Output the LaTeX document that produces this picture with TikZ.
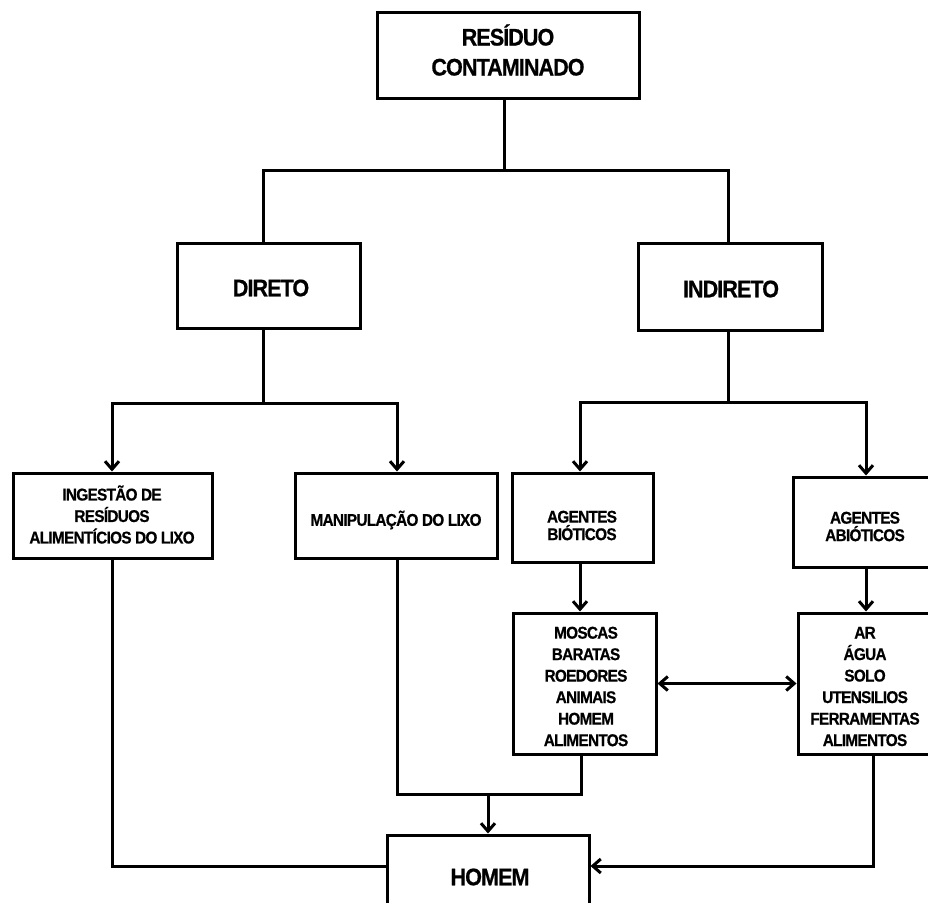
\documentclass[tikz,border=0pt]{standalone}
\usepackage{fontspec}
\newfontfamily\labfont{Liberation Sans}[FakeStretch=0.9,LetterSpace=-4,FakeBold=0.6]
\usetikzlibrary{arrows.meta}
\begin{document}
\begin{tikzpicture}[x=1pt,y=-1pt,
  line width=3pt,
  boxnode/.style={draw, rectangle, inner sep=0pt, fill=white},
  bigt/.style={align=center, inner sep=0pt, font=\labfont\bfseries\fontsize{24}{30}\selectfont},
  smt/.style={align=center, inner sep=0pt, font=\labfont\bfseries\fontsize{17}{21.5}\selectfont},
  smtight/.style={align=center, inner sep=0pt, font=\labfont\bfseries\fontsize{17}{17.5}\selectfont},
  arr/.style={-{Straight Barb[length=8pt,width=14pt]}},
  arrboth/.style={{Straight Barb[length=8pt,width=14pt]}-{Straight Barb[length=8pt,width=14pt]}}
]
\useasboundingbox (0,0) rectangle (928,902);
\clip (0,0) rectangle (928,902);

% boxes
\node[boxnode, minimum width=262, minimum height=86] (top) at (508,55) {};
\node[boxnode, minimum width=183, minimum height=85] (direto) at (268.5,285.5) {};
\node[boxnode, minimum width=184, minimum height=87] (indireto) at (730,286.5) {};
\node[boxnode, minimum width=199, minimum height=85] (ingestao) at (112.5,515.5) {};
\node[boxnode, minimum width=202, minimum height=85] (manip) at (396,515.5) {};
\node[boxnode, minimum width=141, minimum height=89] (bioticos) at (582.5,517.5) {};
\node[boxnode, minimum width=140, minimum height=90] (abioticos) at (863,522) {};
\node[boxnode, minimum width=143, minimum height=141] (moscas) at (584.5,683.5) {};
\node[boxnode, minimum width=134, minimum height=141] (ar) at (865,683.5) {};
\node[boxnode, minimum width=202, minimum height=100] (homem) at (488,885) {};

% texts
\node[bigt] (tTop) at (508,50) {RESÍDUO\\CONTAMINADO};
\node[bigt] (tDir) at (271,288) {DIRETO};
\node[bigt] (tInd) at (731,289) {INDIRETO};
\node[bigt] (tHom) at (490,877) {HOMEM};
\node[smt] (tIng) at (112,514.5) {INGESTÃO DE\\RESÍDUOS\\ALIMENTÍCIOS DO LIXO};
\node[smt] (tMan) at (396,520) {MANIPULAÇÃO DO LIXO};
\node[smtight] (tBio) at (582,525.5) {AGENTES\\BIÓTICOS};
\node[smtight] (tAbi) at (865,526.5) {AGENTES\\ABIÓTICOS};
\node[smt] (tMos) at (586,686.5) {MOSCAS\\BARATAS\\ROEDORES\\ANIMAIS\\HOMEM\\ALIMENTOS};
\node[smt] (tAr) at (865,686.5) {AR\\ÁGUA\\SOLO\\UTENSILIOS\\FERRAMENTAS\\ALIMENTOS};

% junction coordinates
\coordinate (j0) at (504,170);
\coordinate (xDL) at (263,0);
\coordinate (xDR) at (728,0);
\coordinate (j1) at (263,403);
\coordinate (j2) at (728,402);
\coordinate (xI) at (112,0);
\coordinate (xM) at (397,0);
\coordinate (xB) at (580,0);
\coordinate (xA) at (866,0);
\coordinate (xMo) at (581,0);
\coordinate (xR) at (873,0);
\coordinate (j3) at (488,794);
\coordinate (yH) at (0,866);

% connectors
\draw (top.south -| j0) -- (j0);
\draw (direto.north -| xDL) |- (j0) -| (indireto.north -| xDR);
\draw (direto.south -| j1) -- (j1);
\draw[arr] (j1) -| (ingestao.north -| xI);
\draw[arr] (j1) -| (manip.north -| xM);
\draw (indireto.south -| j2) -- (j2);
\draw[arr] (j2) -| (bioticos.north -| xB);
\draw[arr] (j2) -| (abioticos.north -| xA);
\draw[arr] (bioticos.south -| xB) -- (moscas.north -| xB);
\draw[arr] (abioticos.south -| xA) -- (ar.north -| xA);
\draw[arrboth] (moscas.east) -- (ar.west);
\draw (manip.south -| xM) |- (j3) -| (moscas.south -| xMo);
\draw[arr] (j3) -- (homem.north -| j3);
\draw (ingestao.south -| xI) |- (homem.west |- yH);
\draw[arr] (ar.south -| xR) |- (homem.east |- yH);
\end{tikzpicture}
\end{document}
